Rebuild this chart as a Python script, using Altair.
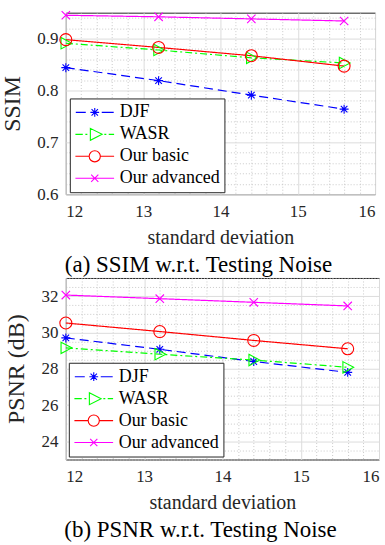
import altair as alt
import pandas as pd

# ---------------- data ----------------
x_values = [12, 13.2, 14.4, 15.6]
series = ["DJF", "WASR", "Our basic", "Our advanced"]

ssim_djf = [0.844, 0.819, 0.791, 0.764]
ssim_wasr = [0.891, 0.878, 0.863, 0.853]
ssim_basic = [0.898, 0.883, 0.867, 0.847]
ssim_adv = [0.945, 0.942, 0.938, 0.934]

psnr_djf = [29.70, 29.07, 28.40, 27.80]
psnr_wasr = [29.15, 28.80, 28.48, 28.08]
psnr_basic = [30.52, 30.05, 29.56, 29.10]
psnr_adv = [32.06, 31.86, 31.66, 31.46]

x_ticks = [12, 13, 14, 15, 16]
ssim_ticks = [0.6, 0.7, 0.8, 0.9]
psnr_ticks = [24, 26, 28, 30, 32]

# ---------------- styles ----------------
colors = ["#0000ff", "#00ff00", "#ff0000", "#ff00ff"]
dashes = [[9, 5], [7, 3, 2, 3], [1, 0], [1, 0]]
marker_paths = [
    "M-0.75,0H0.75M0,-0.75V0.75M-0.55,-0.55L0.55,0.55M-0.55,0.55L0.55,-0.55",
    "M-0.8,-0.95L1,0L-0.8,0.95Z",
    "circle",
    "M-0.7,-0.7L0.7,0.7M-0.7,0.7L0.7,-0.7",
]
legend_paths = [
    "M-0.95,0H-0.45M0.35,0H0.95"
    "M-0.22,0H0.22M0,-0.22V0.22M-0.16,-0.16L0.16,0.16M-0.16,0.16L0.16,-0.16",
    "M-0.97,0H-0.6M-0.47,0H-0.37M0.48,0H0.58M0.7,0H0.97"
    "M-0.22,-0.3L0.37,0L-0.22,0.3Z",
    "M-0.97,0H-0.28M0.28,0H0.97"
    "M0.28,0A0.28,0.28,0,1,1,-0.28,0A0.28,0.28,0,1,1,0.28,0Z",
    "M-0.97,0H0.97M-0.18,-0.18L0.18,0.18M-0.18,0.18L0.18,-0.18",
]

FONT = "Liberation Serif"
AX = "#262626"


def make_df(vals):
    rows = []
    for s, ys in zip(series, vals):
        for i, (x, y) in enumerate(zip(x_values, ys)):
            rows.append({"x": x, "y": y, "series": s, "i": i})
    return pd.DataFrame(rows)


def panel(df, ytitle, ydomain, yticks, yminor, yfmt, caption, lx, ly, width):
    xs = alt.Scale(domain=[12, 16], nice=False, zero=False)
    ys = alt.Scale(domain=ydomain, nice=False, zero=False)
    xminor = [round(12 + 0.2 * k, 1) for k in range(21) if k % 5]
    cscale = alt.Scale(domain=series, range=colors)
    base = alt.Chart(df)

    minor = base.mark_point(opacity=0).encode(
        x=alt.X("x:Q", scale=xs, axis=alt.Axis(orient="bottom", values=xminor, grid=True, gridDash=[1, 2],
                                                gridColor="#bdbdbd", gridWidth=0.8,
                                                labels=False, ticks=False, domain=False, title=None)),
        y=alt.Y("y:Q", scale=ys, axis=alt.Axis(orient="left", values=yminor, grid=True, gridDash=[1, 2],
                                                gridColor="#bdbdbd", gridWidth=0.8,
                                                labels=False, ticks=False, domain=False, title=None)),
    )

    lines = base.mark_line(strokeWidth=1.2).encode(
        x=alt.X("x:Q", scale=xs, axis=alt.Axis(orient="bottom", values=x_ticks, grid=True, gridColor="#dcdcdc",
                                                gridWidth=1, ticks=False, domain=False,
                                                labelFont=FONT, labelFontSize=17, labelColor=AX,
                                                labelPadding=9, title="standard deviation",
                                                titleFont=FONT, titleFontSize=20,
                                                titleFontWeight="normal", titleColor=AX,
                                                titlePadding=8, format="d")),
        y=alt.Y("y:Q", scale=ys, axis=alt.Axis(orient="left", values=yticks, grid=True, gridColor="#dcdcdc",
                                                gridWidth=1, ticks=False, domain=False,
                                                labelFont=FONT, labelFontSize=17, labelColor=AX,
                                                labelPadding=8, title=ytitle,
                                                titleFont=FONT, titleFontSize=24,
                                                titleFontWeight="normal", titleColor=AX,
                                                titlePadding=12, format=yfmt)),
        color=alt.Color("series:N", scale=cscale, legend=None),
        strokeDash=alt.StrokeDash("series:N", scale=alt.Scale(domain=series, range=dashes), legend=None),
        order="i:Q",
    )

    points = base.mark_point(filled=False, size=144, strokeWidth=1.1, opacity=1).encode(
        x=alt.X("x:Q", scale=xs, axis=None),
        y=alt.Y("y:Q", scale=ys, axis=None),
        color=alt.Color("series:N", scale=cscale, legend=None),
        shape=alt.Shape("series:N", scale=alt.Scale(domain=series, range=marker_paths), legend=None),
    )

    leg = alt.Legend(orient="none", legendX=lx, legendY=ly, title=None,
                     labelFont=FONT, labelFontSize=18, labelColor="black",
                     symbolSize=1600, symbolStrokeWidth=1.1, symbolFillColor="transparent",
                     strokeColor=AX, fillColor="white", padding=4, rowPadding=2,
                     clipHeight=20, labelOffset=4, cornerRadius=0)
    legend_layer = base.mark_point(filled=False, size=1600, strokeWidth=1.1, opacity=1).encode(
        x=alt.X("x:Q", scale=xs, axis=None),
        y=alt.Y("y:Q", scale=ys, axis=None),
        color=alt.Color("series:N", scale=cscale, legend=leg),
        shape=alt.Shape("series:N", scale=alt.Scale(domain=series, range=legend_paths), legend=leg),
    ).transform_filter("false")

    return alt.layer(minor, lines, points, legend_layer).resolve_scale(
        color="independent", shape="independent", strokeDash="independent"
    ).resolve_axis(x="independent", y="independent").properties(
        width=width, height=182,
        title=alt.TitleParams(text=caption, orient="bottom", anchor="middle", frame="group",
                              font=FONT, fontSize=23, fontWeight="normal", color="black",
                              offset=7, dx=-22),
    )


df_ssim = make_df([ssim_djf, ssim_wasr, ssim_basic, ssim_adv])
df_psnr = make_df([psnr_djf, psnr_wasr, psnr_basic, psnr_adv])

ssim_minor = [round(0.6 + 0.02 * k, 2) for k in range(18) if k % 5]
psnr_minor = [23 + 0.5 * k for k in range(21) if k % 4 != 2]

pa = panel(df_ssim, "SSIM", [0.6, 0.95], ssim_ticks, ssim_minor, ".1f",
           "(a) SSIM w.r.t. Testing Noise", 4, 86, 310)
pb = panel(df_psnr, "PSNR (dB)", [23, 33], psnr_ticks, psnr_minor, "d",
           "(b) PSNR w.r.t. Testing Noise", 3, 85, 314)

chart = alt.vconcat(pa, pb, spacing=-2).properties(
    padding={"left": 0, "top": 7, "right": 5, "bottom": 0},
    background="white",
).configure_view(stroke=AX, strokeWidth=1).configure_axis(labelFont=FONT, titleFont=FONT)

chart.save("out.html", embed_options={"renderer": "svg", "actions": False})
